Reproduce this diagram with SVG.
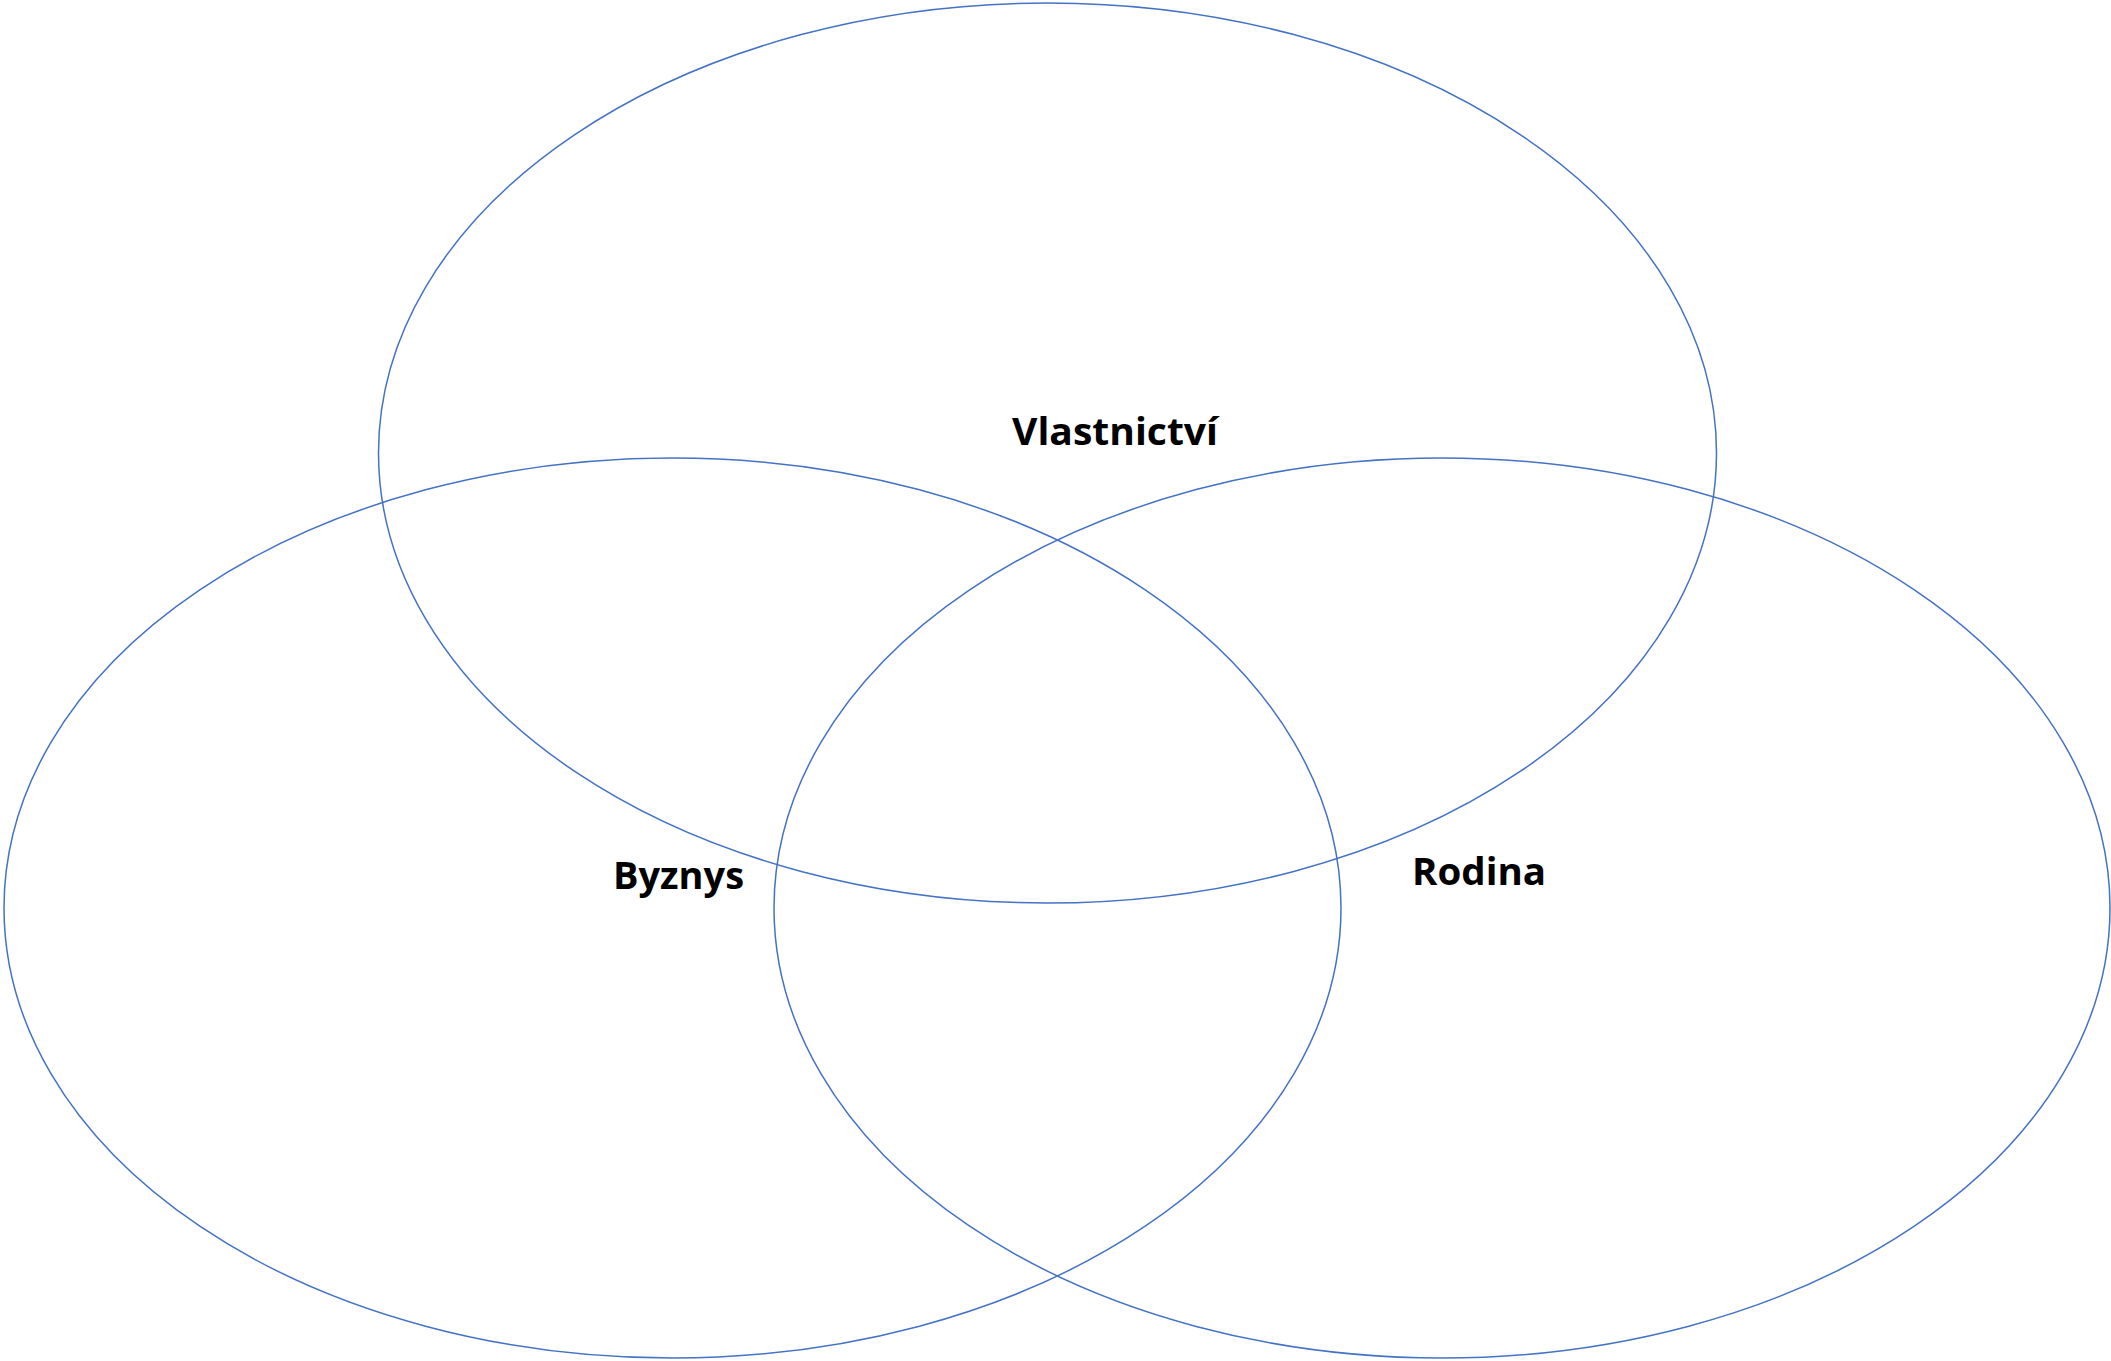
<svg xmlns="http://www.w3.org/2000/svg" width="2111" height="1361" viewBox="0 0 2111 1361">
<style>
.c{fill:none;stroke:#4472C4;stroke-width:1.5}
.t{font-family:"Open Sans","Noto Sans","Liberation Sans",sans-serif;font-weight:bold;font-size:38px;fill:#000}
</style>
<rect width="2111" height="1361" fill="#fff"/>
<g id="vlastnictvi">
<ellipse class="c" cx="1047.5" cy="453" rx="669" ry="450"/>
<text class="t" x="1012" y="445" textLength="206" lengthAdjust="spacingAndGlyphs">Vlastnictví</text>
</g>
<g id="byznys">
<ellipse class="c" cx="672.5" cy="908" rx="668.5" ry="450"/>
<text class="t" x="613" y="889" textLength="131" lengthAdjust="spacingAndGlyphs">Byznys</text>
</g>
<g id="rodina">
<ellipse class="c" cx="1442" cy="908" rx="668" ry="450"/>
<text class="t" x="1412" y="885" textLength="134" lengthAdjust="spacingAndGlyphs">Rodina</text>
</g>
<g id="connectors"/>
</svg>
